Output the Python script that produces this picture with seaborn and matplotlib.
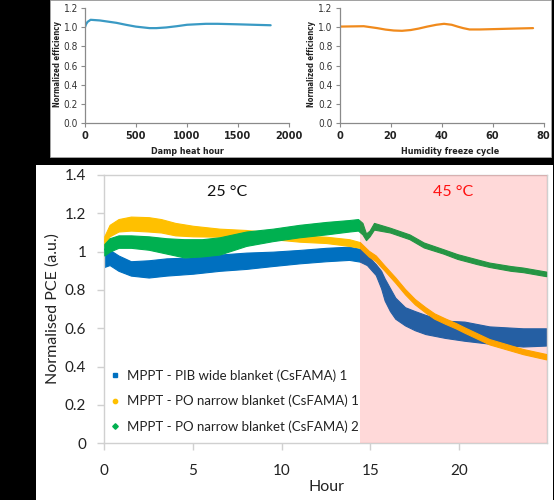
import numpy as np
import pandas as pd
import matplotlib
matplotlib.use("Agg")
import matplotlib.pyplot as plt
from matplotlib.patches import Rectangle
from matplotlib.lines import Line2D
from matplotlib import font_manager
import seaborn as sns

# ---------------- data ----------------
damp_h = [0, 10, 25, 55, 146, 309, 400, 497, 633, 700, 796, 900, 1000, 1185, 1300, 1488, 1650, 1820]
damp_eff = [1.0, 1.03, 1.055, 1.077, 1.07, 1.045, 1.025, 1.006, 0.99, 0.99, 0.997, 1.01, 1.025, 1.035, 1.035, 1.03, 1.025, 1.02]

hf_cycle = [0, 9.5, 14.8, 18, 21.3, 24.5, 27.9, 31, 34.4, 38, 41, 44, 46.3, 48.5, 51, 55, 61, 68, 75.9]
hf_eff = [1.006, 1.01, 0.99, 0.975, 0.965, 0.962, 0.97, 0.985, 1.006, 1.025, 1.035, 1.025, 1.006, 0.99, 0.976, 0.976, 0.98, 0.985, 0.99]

blue_h = [0, 0.3, 0.8, 1.5, 2.5, 3.5, 5, 6.5, 8, 9.5, 11, 12.5, 13.8, 14.4, 14.8, 15.3, 15.6,
          15.8, 16.1, 16.4, 16.95, 17.5, 18.1, 19.2, 20.3, 21.7, 23.6, 24.9]
blue_lo = [0.92, 0.93, 0.90, 0.875, 0.865, 0.875, 0.885, 0.90, 0.91, 0.925, 0.939, 0.95, 0.957, 0.948,
           0.93, 0.878, 0.809, 0.745, 0.69, 0.65, 0.615, 0.59, 0.57, 0.55, 0.535, 0.52, 0.505, 0.51]
blue_hi = [1.00, 1.01, 0.98, 0.95, 0.955, 0.965, 0.97, 0.985, 0.995, 1.0, 1.009, 1.02, 1.026, 1.015,
           0.983, 0.935, 0.9, 0.86, 0.81, 0.76, 0.71, 0.69, 0.67, 0.64, 0.635, 0.61, 0.60, 0.60]

yellow_h = [0, 0.3, 0.8, 1.5, 2.5, 3.2, 4, 5, 6.5, 8, 9.5, 11, 12.5, 13.8, 14.4, 14.9, 15.3, 15.8,
            16.4, 16.95, 17.5, 18.1, 18.6, 19.2, 19.8, 20.3, 21.7, 23.6, 24.9]
yellow_lo = [1.03, 1.08, 1.105, 1.11, 1.105, 1.10, 1.085, 1.08, 1.078, 1.075, 1.065, 1.052, 1.045, 1.03,
             1.02, 0.975, 0.95, 0.90, 0.838, 0.777, 0.725, 0.682, 0.65, 0.624, 0.60, 0.577, 0.516, 0.465, 0.438]
yellow_hi = [1.08, 1.14, 1.17, 1.183, 1.18, 1.17, 1.15, 1.135, 1.12, 1.113, 1.10, 1.085, 1.078, 1.065,
             1.05, 1.005, 0.98, 0.927, 0.866, 0.805, 0.753, 0.71, 0.678, 0.652, 0.628, 0.605, 0.544, 0.492, 0.466]

green_h = [0, 0.3, 0.8, 1.5, 2.5, 3.5, 4.5, 5.5, 6.5, 8, 9.5, 11, 12.5, 13.8, 14.3, 14.55, 14.75, 14.95,
           15.2, 16.1, 17.2, 18, 19.1, 19.9, 21, 21.7, 22.9, 23.6, 24.9]
green_lo = [0.98, 1.0, 1.02, 1.02, 1.01, 0.99, 0.97, 0.975, 0.985, 1.03, 1.055, 1.075, 1.09, 1.105, 1.11,
            1.09, 1.06, 1.08, 1.115, 1.10, 1.065, 1.022, 0.99, 0.962, 0.935, 0.92, 0.90, 0.893, 0.872]
green_hi = [1.04, 1.07, 1.085, 1.085, 1.08, 1.07, 1.065, 1.065, 1.075, 1.105, 1.12, 1.14, 1.155, 1.165, 1.17,
            1.15, 1.095, 1.11, 1.15, 1.125, 1.09, 1.048, 1.013, 0.987, 0.96, 0.943, 0.925, 0.917, 0.896]

series_names = ["MPPT - PIB wide blanket (CsFAMA) 1",
                "MPPT - PO narrow blanket (CsFAMA) 1",
                "MPPT - PO narrow blanket (CsFAMA) 2"]
series_colors = ["#0070C0", "#FFC000", "#00B050"]
series_markers = ["s", "o", "D"]

hot_start = 14.4
bottom_yticks = [0, 0.2, 0.4, 0.6, 0.8, 1.0, 1.2, 1.4]
bottom_ytick_labels = ["0", "0.2", "0.4", "0.6", "0.8", "1", "1.2", "1.4"]
bottom_xticks = [0, 5, 10, 15, 20]

# ---------------- figure ----------------
sns.set_theme(style="white")
plt.rcParams["font.family"] = ["Lato", "DejaVu Sans"]

W, H = 554, 500
fig = plt.figure(figsize=(W / 100, H / 100), dpi=100, facecolor="black")

def px_axes(x0, y0, x1, y1):
    return fig.add_axes([x0 / W, 1 - y1 / H, (x1 - x0) / W, (y1 - y0) / H])

# white panels (behind the axes)
fig.patches.append(Rectangle((50 / W, 1 - 157 / H), 501 / W, 157 / H, transform=fig.transFigure,
                             facecolor="white", edgecolor="#aaaaaa", lw=0.6, zorder=-5))
fig.patches.append(Rectangle((36 / W, 0), 517 / W, 335 / H, transform=fig.transFigure,
                             facecolor="white", edgecolor="none", zorder=-5))

def small_font(size, bold=False):
    return font_manager.FontProperties(family="DejaVu Sans", stretch="condensed",
                                       weight="bold" if bold else "normal", size=size)

def style_small(ax, xticks, xlabels, xlim):
    ax.set_facecolor("none")
    for s in ["top", "right"]:
        ax.spines[s].set_visible(False)
    for s in ["left", "bottom"]:
        ax.spines[s].set_color("#8a8a8a")
        ax.spines[s].set_linewidth(0.9)
    ax.set_xlim(xlim)
    ax.set_ylim(0, 1.2)
    ax.set_xticks(xticks)
    ax.set_xticklabels(xlabels, fontproperties=small_font(7.8, True), color="#222222")
    ax.set_yticks([0, 0.2, 0.4, 0.6, 0.8, 1.0, 1.2])
    ax.set_yticklabels(["0.0", "0.2", "0.4", "0.6", "0.8", "1.0", "1.2"],
                       fontproperties=small_font(7.2), color="#333333")
    ax.tick_params(axis="both", direction="out", length=3, width=0.8, color="#8a8a8a", pad=2,
                   bottom=True, left=True)
    ax.tick_params(axis="x", pad=3)
    ax.set_xlabel("")
    ax.set_ylabel("")

# top-left
ax1 = px_axes(85, 8, 289, 123)
sns.lineplot(x=damp_h, y=damp_eff, ax=ax1, color="#3A9AC4", linewidth=1.6)
style_small(ax1, [0, 500, 1000, 1500, 2000], ["0", "500", "1000", "1500", "2000"], (0, 2000))

# top-right
ax2 = px_axes(339.5, 8, 543.5, 123)
sns.lineplot(x=hf_cycle, y=hf_eff, ax=ax2, color="#F08A1C", linewidth=1.6)
style_small(ax2, [0, 20, 40, 60, 80], ["0", "20", "40", "60", "80"], (0, 80))

for xc, lab in [(187, "Damp heat hour"), (450, "Humidity freeze cycle")]:
    fig.text(xc / W, 1 - 151 / H, lab, ha="center", va="center",
             fontproperties=small_font(6.4, True), color="#222222")
for xc in [57, 311]:
    fig.text(xc / W, 1 - 64 / H, "Normalized efficiency", ha="center", va="center", rotation=90,
             fontproperties=small_font(5.6, True), color="#222222")

# bottom
ax = px_axes(104.3, 175, 547, 443.3)
ax.set_facecolor("white")
bands = [(blue_h, blue_lo, blue_hi), (yellow_h, yellow_lo, yellow_hi), (green_h, green_lo, green_hi)]
for i, ((hh, lo, hi), col) in enumerate(zip(bands, series_colors)):
    ax.fill_between(hh, lo, hi, color=col, lw=0.8, edgecolor=col, zorder=2 + i)
    center = (np.array(lo) + np.array(hi)) / 2
    sns.lineplot(x=hh, y=center, ax=ax, color=col, linewidth=1.0, zorder=2 + i)

ax.axvspan(hot_start, 25, color="#FF0000", alpha=0.15, lw=0, zorder=6)
ax.set_xlim(0, 24.95)
ax.set_ylim(0, 1.4)
ax.set_xticks(bottom_xticks)
ax.set_xticklabels([str(t) for t in bottom_xticks], fontsize=11, color="#222222")
ax.set_yticks(bottom_yticks)
ax.set_yticklabels(bottom_ytick_labels, fontsize=11, color="#222222")
ax.tick_params(axis="both", direction="out", length=5, width=1, color="#d0d0d0",
               bottom=True, left=True)
ax.tick_params(axis="x", pad=10)
ax.tick_params(axis="y", pad=8)
for s in ax.spines.values():
    s.set_color("#d0d0d0")
    s.set_linewidth(1)
ax.set_xlabel("")
ax.set_ylabel("")

ax.text(6.92, 1.312, "25 °C", ha="center", va="center", fontsize=11.5, color="#111111", zorder=7)
ax.text(19.66, 1.312, "45 °C", ha="center", va="center", fontsize=11.5, color="#FF1010", zorder=7)

fig.text(326 / W, 1 - 487 / H, "Hour", ha="center", va="center", fontsize=11.5, color="#222222")
fig.text(53 / W, 1 - 309 / H, "Normalised PCE (a.u.)", ha="center", va="center", rotation=90,
         fontsize=11.5, color="#222222")

handles = [Line2D([], [], ls="", marker=m, color=c, markersize=ms)
           for m, c, ms in zip(series_markers, series_colors, [2.8, 3.1, 2.8])]
leg = ax.legend(handles, series_names, loc="upper left", bbox_to_anchor=(0.014, 0.277),
                frameon=False, fontsize=9.5, handlelength=0.7, handletextpad=0.55,
                labelspacing=1.0, borderpad=0, borderaxespad=0)
for t in leg.get_texts():
    t.set_color("#222222")
leg.set_zorder(8)

fig.savefig("out.png", dpi=100, facecolor="black")
